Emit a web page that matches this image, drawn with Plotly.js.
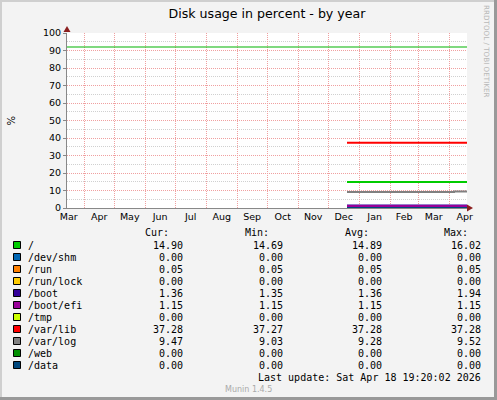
<!DOCTYPE html>
<html>
<head>
<meta charset="utf-8">
<script src="https://cdn.plot.ly/plotly-3.0.1.min.js"></script>
<style>html,body{margin:0;padding:0;background:#f3f3f3;}#chart{width:497px;height:400px;}</style>
</head>
<body>
<div id="chart"></div>
<script>
// ---- data ----
const seriesNames = ["/", "/dev/shm", "/run", "/run/lock", "/boot", "/boot/efi", "/tmp", "/var/lib", "/var/log", "/web", "/data"];
const seriesColors = ["#00CC00", "#0066B3", "#FF8000", "#FFCC00", "#330099", "#990099", "#CCFF00", "#FF0000", "#808080", "#008F00", "#00487D"];
const sampleDates = ["2025-12-19 19:20", "2026-04-05 19:20", "2026-04-18 19:20"];
const valRoot    = [14.90, 14.90, 14.90];
const valDevShm  = [0.00, 0.00, 0.00];
const valRun     = [0.05, 0.05, 0.05];
const valRunLock = [0.00, 0.00, 0.00];
const valBoot    = [1.36, 1.36, 1.36];
const valBootEfi = [1.15, 1.15, 1.15];
const valTmp     = [0.00, 0.00, 0.00];
const valVarLib  = [37.28, 37.28, 37.28];
const valVarLog  = [9.10, 9.50, 9.50];
const valWeb     = [0.00, 0.00, 0.00];
const valData    = [0.00, 0.00, 0.00];
const curVals = ["14.90", "0.00", "0.05", "0.00", "1.36", "1.15", "0.00", "37.28", "9.47", "0.00", "0.00"];
const minVals = ["14.69", "0.00", "0.05", "0.00", "1.35", "1.15", "0.00", "37.27", "9.03", "0.00", "0.00"];
const avgVals = ["14.89", "0.00", "0.05", "0.00", "1.36", "1.15", "0.00", "37.28", "9.28", "0.00", "0.00"];
const maxVals = ["16.02", "0.00", "0.05", "0.00", "1.94", "1.15", "0.00", "37.28", "9.52", "0.00", "0.00"];
const warnLevel = 92;
const rangeStart = "2025-03-14 19:20";
const rangeEnd = "2026-04-18 19:20";
const yTickVals = [0, 10, 20, 30, 40, 50, 60, 70, 80, 90, 100];
const titleText = "Disk usage in percent - by year";
const lastUpdate = "Last update: Sat Apr 18 19:20:02 2026";
const footer = "Munin 1.4.5";
const sideText = "RRDTOOL / TOBI OETIKER";

const allValues = [valRoot, valDevShm, valRun, valRunLock, valBoot, valBootEfi, valTmp, valVarLib, valVarLog, valWeb, valData];

// ---- geometry helpers (pixel -> paper) ----
const W = 497, H = 400, L = 67, R = 467, T = 33, B = 208;
const px = x => (x - L) / (R - L);
const py = y => (B - y) / (B - T);

const traces = seriesNames.map((n, i) => ({
  x: sampleDates, y: allValues[i], type: "scatter", mode: "lines",
  line: {color: seriesColors[i], width: 2, shape: "hv"}, name: n, hoverinfo: "skip"
}));

const mono = {family: "DejaVu Sans Mono", size: 10, color: "#000"};
const annotations = [];
const shapes = [];

// headers
[["Cur:", 171], ["Min:", 271], ["Avg:", 370.5], ["Max:", 470]].forEach(([t, xr]) => {
  annotations.push({text: t, xref: "paper", yref: "paper", x: px(xr), y: py(232.5), xanchor: "right", yanchor: "middle", showarrow: false, font: mono});
});
seriesNames.forEach((n, i) => {
  const yc = 245 + i * 12;
  shapes.push({type: "rect", xref: "paper", yref: "paper", x0: px(13.5), x1: px(20.5), y0: py(yc - 3.5), y1: py(yc + 3.5), fillcolor: seriesColors[i], line: {color: "#000", width: 1}});
  annotations.push({text: n, xref: "paper", yref: "paper", x: px(26), y: py(yc), xanchor: "left", yanchor: "middle", showarrow: false, font: mono});
  [[curVals, 185], [minVals, 285], [avgVals, 384], [maxVals, 483]].forEach(([arr, xr]) => {
    annotations.push({text: arr[i], xref: "paper", yref: "paper", x: px(xr), y: py(yc), xanchor: "right", yanchor: "middle", showarrow: false, font: mono});
  });
});
annotations.push({text: lastUpdate, xref: "paper", yref: "paper", x: px(483), y: py(377), xanchor: "right", yanchor: "middle", showarrow: false, font: mono});
annotations.push({text: footer, xref: "paper", yref: "paper", x: px(248.5), y: py(389), xanchor: "center", yanchor: "middle", showarrow: false, font: {family: "DejaVu Sans", size: 8, color: "#aaa"}});
annotations.push({text: sideText, xref: "paper", yref: "paper", x: px(487), y: py(51), xanchor: "center", yanchor: "middle", textangle: 90, showarrow: false, font: {family: "DejaVu Sans", size: 7.2, color: "#b8b8b8"}});
annotations.push({text: "%", xref: "paper", yref: "paper", x: px(10.5), y: py(121), xanchor: "center", yanchor: "middle", textangle: -90, showarrow: false, font: {family: "DejaVu Sans", size: 10, color: "#000"}});

// warning level line
shapes.push({type: "line", xref: "paper", yref: "y", x0: 0, x1: 1, y0: warnLevel, y1: warnLevel, line: {color: "#00B400", width: 1.2}, layer: "above"});
// axis arrows
shapes.push({type: "path", xref: "paper", yref: "paper", path: `M ${px(63.5)} ${py(32)} L ${px(70.5)} ${py(32)} L ${px(67)} ${py(26)} Z`, fillcolor: "#8b1f1f", line: {width: 0}, layer: "above"});
shapes.push({type: "path", xref: "paper", yref: "paper", path: `M ${px(467)} ${py(204.5)} L ${px(467)} ${py(211.5)} L ${px(473)} ${py(208)} Z`, fillcolor: "#8b1f1f", line: {width: 0}, layer: "above"});
// outer frame
shapes.push({type: "rect", xref: "paper", yref: "paper", x0: px(0), x1: px(2), y0: py(0), y1: py(400), fillcolor: "#cfcfcf", line: {width: 0}});
shapes.push({type: "rect", xref: "paper", yref: "paper", x0: px(0), x1: px(497), y0: py(0), y1: py(2), fillcolor: "#cfcfcf", line: {width: 0}});
shapes.push({type: "rect", xref: "paper", yref: "paper", x0: px(494), x1: px(497), y0: py(0), y1: py(400), fillcolor: "#999", line: {width: 0}});
shapes.push({type: "rect", xref: "paper", yref: "paper", x0: px(0), x1: px(497), y0: py(397), y1: py(400), fillcolor: "#999", line: {width: 0}});

const layout = {
  width: W, height: H,
  margin: {l: L, r: W - R, t: T, b: H - B, pad: 0},
  paper_bgcolor: "#f3f3f3", plot_bgcolor: "#ffffff",
  showlegend: false,
  title: {text: titleText, font: {family: "DejaVu Sans", size: 12.6, color: "#000"}, x: 0.5, xref: "paper", xanchor: "center", y: 1 - 14 / H, yref: "container", yanchor: "middle"},
  font: {family: "DejaVu Sans", size: 9.5, color: "#000"},
  xaxis: {
    type: "date", range: [rangeStart, rangeEnd], tick0: "2025-01-01", dtick: "M1", tickformat: "%b",
    ticklabelmode: "period", showgrid: true, gridcolor: "#f0a0a0", griddash: "1px,1px", gridwidth: 1,
    showline: true, linecolor: "#888", linewidth: 1, ticks: "", zeroline: false, fixedrange: true,
    tickfont: {family: "DejaVu Sans", size: 9.5, color: "#000"}
  },
  yaxis: {
    range: [0, 100], tickvals: yTickVals, showgrid: true, gridcolor: "#f0a0a0", griddash: "1px,1px", gridwidth: 1,
    minor: {dtick: 5, tick0: 0, showgrid: true, gridcolor: "#d0d0d0", griddash: "1px,1px", gridwidth: 1, ticks: ""},
    showline: true, linecolor: "#888", linewidth: 1, ticks: "outside", ticklen: 3, tickcolor: "#888", zeroline: false, fixedrange: true,
    tickfont: {family: "DejaVu Sans", size: 9.5, color: "#000"}
  },
  annotations: annotations, shapes: shapes
};

Plotly.newPlot("chart", traces, layout, {staticPlot: true, displayModeBar: false});
</script>
</body>
</html>
